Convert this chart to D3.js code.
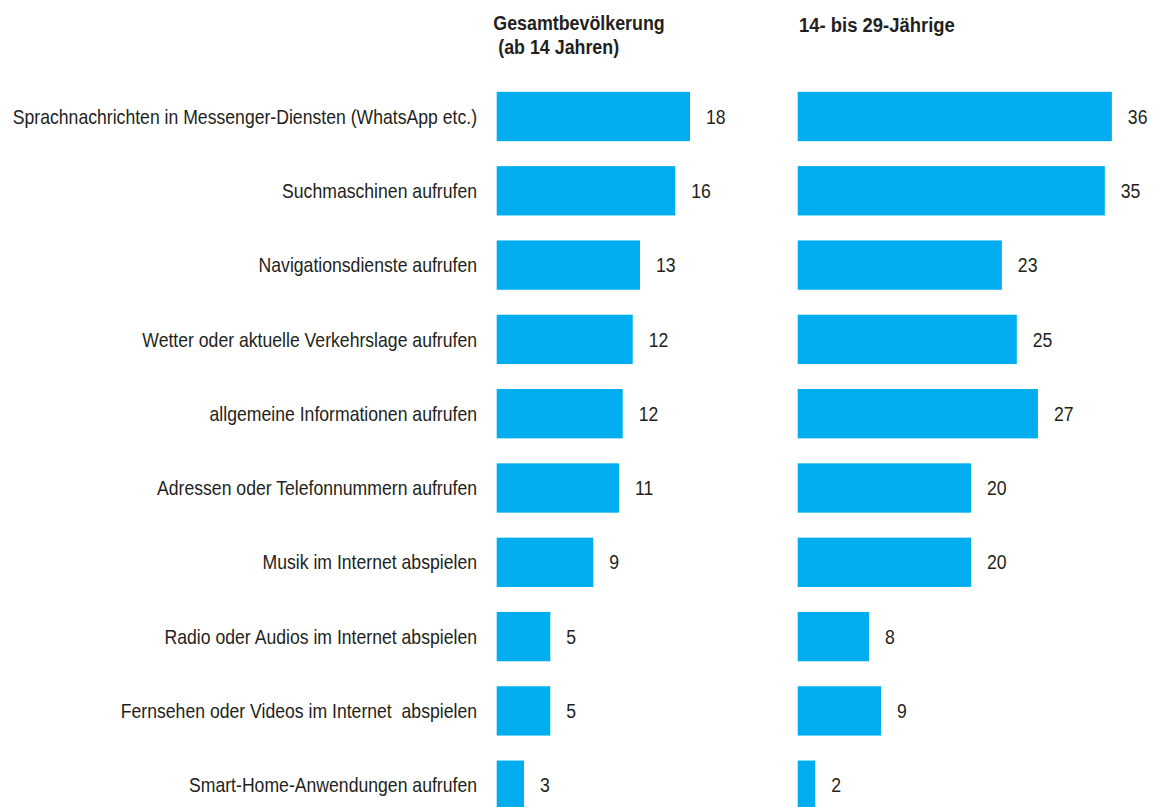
<!DOCTYPE html>
<html>
<head>
<meta charset="utf-8">
<script src="https://cdn.jsdelivr.net/npm/d3@7"></script>
<style>
  body { margin: 0; background: #fff; }
  svg text { font-family: "Liberation Sans", Arial, sans-serif; fill: #231f20; white-space: pre; }
</style>
</head>
<body>
<svg id="chart" width="1164" height="807"></svg>
<script>
const categories = [
  "Sprachnachrichten in Messenger-Diensten (WhatsApp etc.)",
  "Suchmaschinen aufrufen",
  "Navigationsdienste aufrufen",
  "Wetter oder aktuelle Verkehrslage aufrufen",
  "allgemeine Informationen aufrufen",
  "Adressen oder Telefonnummern aufrufen",
  "Musik im Internet abspielen",
  "Radio oder Audios im Internet abspielen",
  "Fernsehen oder Videos im Internet  abspielen",
  "Smart-Home-Anwendungen aufrufen"
];

// bar lengths, labels as printed
const gesamtValues = [17.75, 16.4, 13.16, 12.49, 11.57, 11.23, 8.87, 4.92, 4.92, 2.51];
const gesamtLabels = ["18", "16", "13", "12", "12", "11", "9", "5", "5", "3"];
const jungeValues = [35.7, 34.9, 23.2, 24.9, 27.3, 19.7, 19.7, 8.1, 9.47, 2.0];
const jungeLabels = ["36", "35", "23", "25", "27", "20", "20", "8", "9", "2"];

const svg = d3.select("#chart");
const barColor = "#00aeef";
const squeeze = 0.86; // no narrow font installed, so squeeze the normal one

const y = d3.scaleBand()
  .domain(categories)
  .range([79.35, 822.35])
  .paddingInner(0.336)
  .paddingOuter(0.168);

// the two panels use their own scales, as in the original
const xLeft = d3.scaleLinear().domain([0, 20]).range([496.7, 496.7 + 217.8]);
const xRight = d3.scaleLinear().domain([0, 40]).range([797.7, 797.7 + 352]);

const place = (x, yy, s = squeeze) => `translate(${x},${yy}) scale(${s},1)`;

// category labels
svg.append("g")
  .selectAll("text")
  .data(categories)
  .join("text")
  .attr("transform", d => place(477, y(d) + y.bandwidth() / 2))
  .attr("dy", "0.35em")
  .attr("text-anchor", "end")
  .style("font-size", "20.5px")
  .text(d => d);

function drawPanel(values, labels, x, title, titleDx, titleY, titleSqueeze) {
  const g = svg.append("g");

  g.selectAll("rect")
    .data(values)
    .join("rect")
    .attr("x", x(0))
    .attr("y", (d, i) => y(categories[i]))
    .attr("width", d => x(d) - x(0))
    .attr("height", y.bandwidth())
    .attr("fill", barColor);

  g.selectAll("text.value")
    .data(values)
    .join("text")
    .attr("class", "value")
    .attr("transform", (d, i) => place(x(d) + 16, y(categories[i]) + y.bandwidth() / 2))
    .attr("dy", "0.35em")
    .style("font-size", "20.5px")
    .text((d, i) => labels[i]);

  g.selectAll("text.title")
    .data(title)
    .join("text")
    .attr("class", "title")
    .attr("transform", (d, i) => place(x(0) + titleDx, titleY + i * 24, titleSqueeze))
    .style("font-size", "20.5px")
    .style("font-weight", "bold")
    .text(d => d);
}

drawPanel(gesamtValues, gesamtLabels, xLeft, ["Gesamtbevölkerung", " (ab 14 Jahren)"], -3.4, 29.5, 0.87);
drawPanel(jungeValues, jungeLabels, xRight, ["14- bis 29-Jährige"], 1.3, 32, 0.9);
</script>
</body>
</html>
